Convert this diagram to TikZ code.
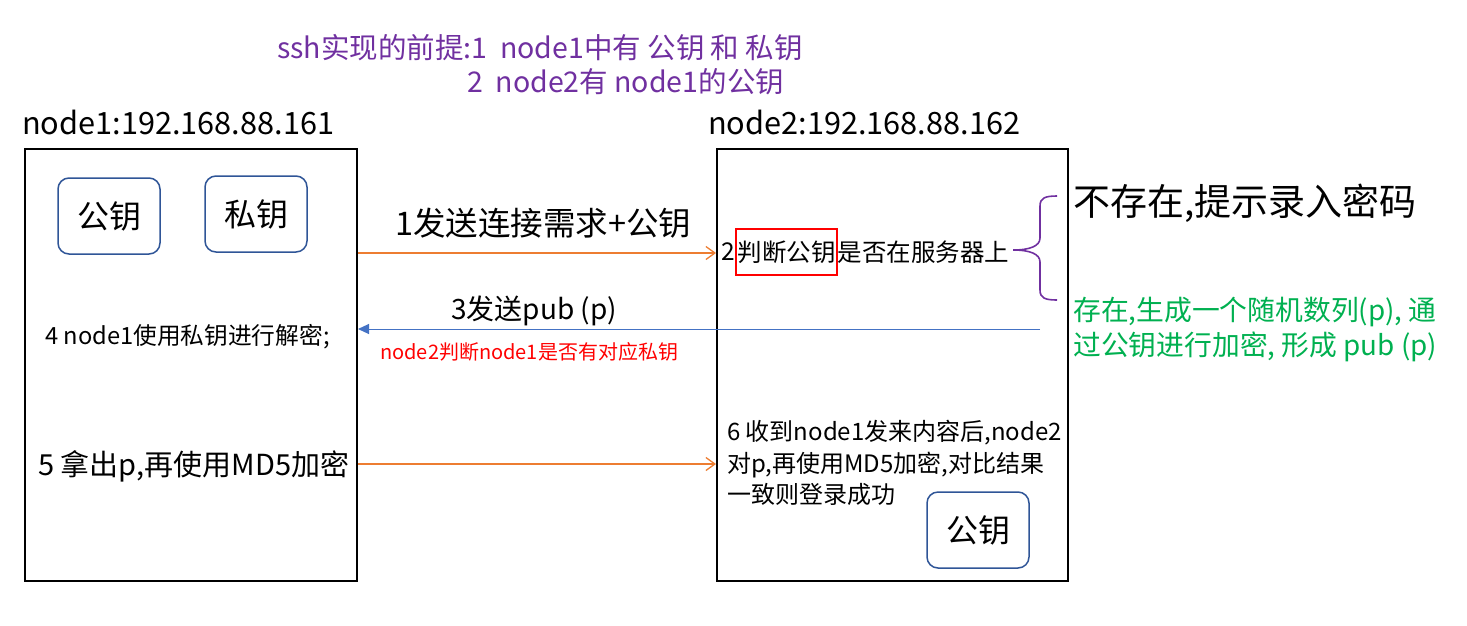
\documentclass[tikz,border=0pt]{standalone}
\usepackage{fontspec}
\setmainfont{Noto Sans CJK SC}
\usetikzlibrary{arrows.meta}
\definecolor{keyblue}{HTML}{2F5597}
\definecolor{arrorange}{HTML}{ED7D31}
\definecolor{arrblue}{HTML}{4472C4}
\definecolor{tpurple}{HTML}{7030A0}
\definecolor{tgreen}{HTML}{00B050}
\definecolor{tred}{HTML}{FF0000}
\newcommand{\fs}[1]{\fontsize{#1}{#1}\selectfont}
\begin{document}
\begin{tikzpicture}[x=1pt,y=-1pt,
  hostbox/.style={draw, line width=2pt, minimum width=332pt, minimum height=432pt, anchor=north west, inner sep=0pt},
  keybox/.style={draw=keyblue, line width=1.5pt, rounded corners=11pt, minimum width=102pt, minimum height=76pt, inner sep=0pt, font=\fs{32}},
  oarrow/.style={draw=arrorange, line width=1.3pt, -{Straight Barb[length=9pt,width=13pt,line width=1.3pt]}},
  barrow/.style={draw=arrblue, line width=1pt, -{Triangle[length=11pt,width=10pt]}},
  lbl/.style={inner sep=0pt},
]
\useasboundingbox (0,0) rectangle (1467,625);
% title
\node[lbl, anchor=west, text=tpurple, font=\fs{28.5}] (t1) at (277,48) {ssh实现的前提:1\ \ node1中有 公钥 和 私钥};
\node[lbl, anchor=west, text=tpurple, font=\fs{28.5}] (t2) at (467,82) {2\ \ node2有 node1的公钥};
% host labels
\node[lbl, anchor=west, font=\fs{30.7}] (h1) at (22,122) {node1:192.168.88.161};
\node[lbl, anchor=west, font=\fs{30.7}] (h2) at (708,122) {node2:192.168.88.162};
% host boxes
\node[hostbox] (n1) at (24,148) {};
\node[hostbox, minimum width=351pt] (n2) at (716,148) {};
% keys
\node[keybox] (k1) at (109,216) {公钥};
\node[keybox] (k2) at (256,214) {私钥};
\node[keybox] (k3) at (978,530) {公钥};
% step 1
\coordinate (y1) at (0,253);
\draw[oarrow] (n1.east |- y1) -- (n2.west |- y1);
\node[lbl, anchor=west, font=\fs{32.5}] (l1) at (395,223) {1发送连接需求+公钥};
% step 2
\node[draw=tred, line width=1.3pt, inner xsep=1.5pt, inner ysep=0pt, minimum height=46pt, font=\fs{24.5}] (rb) at (786.5,252) {判断公钥};
\node[lbl, anchor=east, font=\fs{24.5}] (s2a) at (rb.west) {2};
\node[lbl, anchor=west, font=\fs{24.5}] (s2b) at (rb.east) {是否在服务器上};
% brace
\draw[tpurple, line width=1.6pt] (1057,196) .. controls (1045,196) and (1040,198) .. (1040,206) -- (1040,238) .. controls (1040,246) and (1030,250) .. (1013,250) .. controls (1030,250) and (1040,254) .. (1040,262) -- (1040,290) .. controls (1040,298) and (1045,300) .. (1057,300);
\node[lbl, anchor=west, font=\fs{37}] (no) at (1073,203) {不存在,提示录入密码};
\node[lbl, anchor=north west, align=left, text=tgreen, font=\fontsize{27.8}{35}\selectfont] (yes) at (1073,297) {存在,生成一个随机数列(p), 通\\过公钥进行加密, 形成 pub (p)};
% step 3
\coordinate (bs) at (1040,329);
\draw[barrow] (bs) -- (n1.east |- bs);
\node[lbl, anchor=west, font=\fs{28}] (l3) at (451,311) {3发送pub (p)};
\node[lbl, anchor=west, text=tred, font=\fs{20}] (l3b) at (380,352) {node2判断node1是否有对应私钥};
% step 4
\node[lbl, anchor=west, font=\fs{23.7}] (s4) at (45,337) {4 node1使用私钥进行解密;};
% step 5
\coordinate (y5) at (0,464);
\draw[oarrow] (n1.east |- y5) -- (n2.west |- y5);
\node[lbl, anchor=west, font=\fs{29}] (s5) at (38,466) {5 拿出p,再使用MD5加密};
% step 6
\node[lbl, anchor=north west, align=left, font=\fontsize{24}{31.5}\selectfont] (s6) at (727,420) {6 收到node1发来内容后,node2\\对p,再使用MD5加密,对比结果\\一致则登录成功};
\end{tikzpicture}
\end{document}
